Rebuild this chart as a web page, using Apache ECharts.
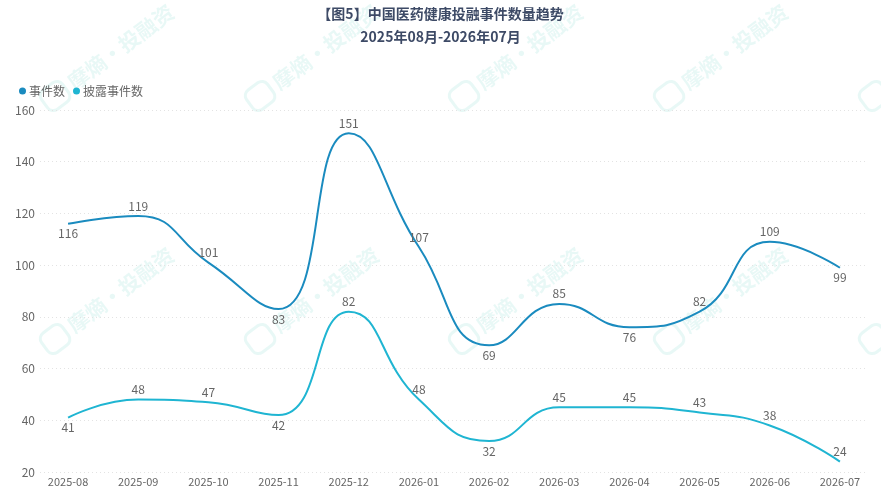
<!DOCTYPE html>
<html>
<head>
<meta charset="utf-8">
<script src="https://cdn.jsdelivr.net/npm/echarts@6/dist/echarts.min.js"></script>
<style>
html,body{margin:0;padding:0;background:#fff;}
#chart{width:881px;height:492px;}
</style>
</head>
<body>
<div id="chart"></div>
<script>
// ---- data ----
const categories = ['2025-08','2025-09','2025-10','2025-11','2025-12','2026-01','2026-02','2026-03','2026-04','2026-05','2026-06','2026-07'];
const eventCounts = [116,119,101,83,151,107,69,85,76,82,109,99];
const disclosedCounts = [41,48,47,42,82,48,32,45,45,43,38,24];
const seriesNames = ['事件数','披露事件数'];
const yTicks = [20,40,60,80,100,120,140,160];

// ---- label placement (style) ----
const eventLabelPos = ['bottom','top','top','bottom','top','top','bottom','top','bottom','top','top','bottom'];
const disclosedLabelPos = ['bottom','top','top','bottom','top','top','bottom','top','top','top','top','top'];

const FONT = '"Noto Sans CJK SC","Noto Sans",sans-serif';

function buildData(values, pos) {
  return values.map((v, i) => ({ value: [i, v], label: { position: pos[i] } }));
}

// watermark
const wmCols = [53, 258, 462, 667, 872];
const wmRows = [115, 358];
const wmGraphics = [];
const wmColor = 'rgba(110,210,200,0.16)';
wmRows.forEach(y => wmCols.forEach(x => {
  wmGraphics.push({
    type: 'group', x: x, y: y, rotation: 0.64, silent: true, z: 0,
    children: [
      { type: 'rect', shape: { x: 0, y: -26, width: 26, height: 24, r: 7 },
        style: { fill: 'none', stroke: wmColor, lineWidth: 3 } },
      { type: 'text', x: 32, y: -14,
        style: { text: '摩熵·投融资', fill: wmColor, font: 'bold 21px ' + FONT, verticalAlign: 'middle' } }
    ]
  });
}));

const labelCfg = { show: true, color: '#666', fontSize: 12, fontFamily: FONT, distance: 4, formatter: p => p.value[1] };

const chart = echarts.init(document.getElementById('chart'));
chart.setOption({
  backgroundColor: '#fff',
  animation: false,
  graphic: wmGraphics,
  title: {
    text: '【图5】中国医药健康投融事件数量趋势',
    subtext: '2025年08月-2026年07月',
    left: 'center', top: 2, itemGap: 9,
    textStyle: { fontFamily: FONT, fontSize: 14, fontWeight: 'bold', color: '#3d4a66' },
    subtextStyle: { fontFamily: FONT, fontSize: 14, fontWeight: 'bold', color: '#3d4a66' }
  },
  legend: {
    left: 14, top: 80, icon: 'circle', itemWidth: 7, itemHeight: 7, itemGap: 8,
    data: seriesNames,
    textStyle: { fontFamily: FONT, fontSize: 12, color: '#666', padding: [0, 0, 0, -2] }
  },
  grid: { left: 40, right: 13, top: 110, bottom: 20, containLabel: false },
  xAxis: {
    type: 'value', min: -0.4, max: 11.4,
    axisLine: { show: false }, axisTick: { show: false }, splitLine: { show: false },
    axisLabel: {
      customValues: categories.map((c, i) => i),
      formatter: v => categories[Math.round(v)] || '',
      color: '#666', fontSize: 11, fontFamily: FONT, margin: 4
    }
  },
  yAxis: {
    type: 'value', min: yTicks[0], max: yTicks[yTicks.length - 1], interval: 20,
    axisLine: { show: false }, axisTick: { show: false },
    axisLabel: { color: '#666', fontSize: 12, fontFamily: FONT, margin: 5 },
    splitLine: { lineStyle: { color: '#e3e3e3', type: [1, 3], width: 1 } }
  },
  series: [
    {
      name: seriesNames[0], type: 'line', smooth: true, showSymbol: true, symbol: 'circle', symbolSize: 0,
      color: '#1a8bbf', lineStyle: { width: 2, color: '#1a8bbf' },
      data: buildData(eventCounts, eventLabelPos),
      label: labelCfg,
      z: 3
    },
    {
      name: seriesNames[1], type: 'line', smooth: true, showSymbol: true, symbol: 'circle', symbolSize: 0,
      color: '#1fb5d2', lineStyle: { width: 2, color: '#1fb5d2' },
      data: buildData(disclosedCounts, disclosedLabelPos),
      label: labelCfg,
      z: 3
    }
  ]
});
</script>
</body>
</html>
